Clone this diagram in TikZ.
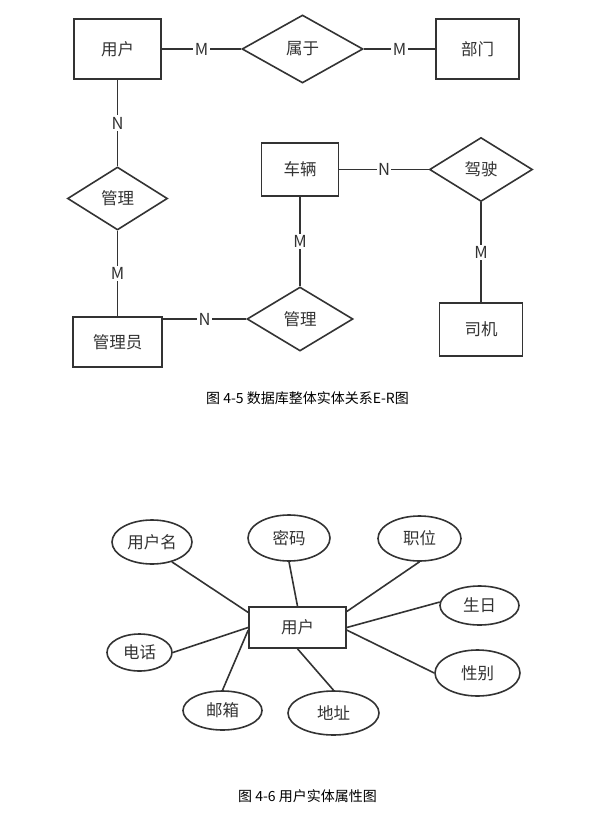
\documentclass[tikz,border=0pt]{standalone}
\usepackage{fontspec}
\setmainfont{Noto Sans CJK SC}
\usetikzlibrary{shapes.geometric}

\begin{document}
\begin{tikzpicture}[x=1pt, y=-1pt,
  entity/.style={draw=black!80, line width=1.6pt, fill=white, inner sep=0pt,
    text=black!80, font=\fontsize{16.5}{19}\selectfont},
  relation/.style={diamond, draw=black!80, line width=1.6pt, fill=white, inner sep=0pt,
    text=black!80, font=\fontsize{16.5}{19}\selectfont},
  attrib/.style={ellipse, draw=black!80, line width=1.6pt, fill=white, inner sep=0pt,
    text=black!80, font=\fontsize{16.5}{19}\selectfont},
  card/.style={fill=white, inner sep=1.5pt, text=black!80, font=\fontsize{16.5}{19}\selectfont},
  link/.style={draw=black!80, line width=1.6pt},
  caption/.style={text=black, font=\fontsize{14}{16}\selectfont}]

  \useasboundingbox (0,0) rectangle (597,826);

  % E-R diagram of the whole database
  \node[entity, minimum width=87pt, minimum height=60pt] (yonghu) at (117.5,49) {用户};
  \node[relation, minimum width=121pt, minimum height=68pt] (shuyu) at (302.5,49) {属于};
  \node[entity, minimum width=83pt, minimum height=60pt] (bumen) at (477.5,49) {部门};

  \node[relation, minimum width=100pt, minimum height=63pt] (guanliA) at (117.5,198.5) {管理};
  \node[entity, minimum width=89pt, minimum height=50pt] (guanliyuan) at (117.5,342) {管理员};

  \node[entity, minimum width=77pt, minimum height=53pt] (cheliang) at (300,169.5) {车辆};
  \node[relation, minimum width=103pt, minimum height=64pt] (jiashi) at (481,169.5) {驾驶};
  \node[entity, minimum width=83pt, minimum height=53pt] (siji) at (481,329.5) {司机};
  \node[relation, minimum width=106pt, minimum height=64pt] (guanliB) at (300,319) {管理};

  \draw[link] (yonghu) -- node[card]{M} (shuyu);
  \draw[link] (shuyu) -- node[card]{M} (bumen);
  \draw[link] (yonghu) -- node[card]{N} (guanliA);
  \draw[link] (guanliA) -- node[card]{M} (guanliyuan);
  \draw[link] (cheliang) -- node[card]{N} (jiashi);
  \draw[link] (cheliang) -- node[card]{M} (guanliB);
  \draw[link] (jiashi) -- node[card]{M} (siji);
  \draw[link] (guanliyuan.east |- guanliB) -- node[card]{N} (guanliB);

  \node[caption] (capA) at (307.5,398) {图 4-5 数据库整体实体关系E-R图};

  % attributes of the user entity
  \node[entity, minimum width=97pt, minimum height=41pt] (yh) at (297.5,627.5) {用户};

  \node[attrib, minimum width=80pt, minimum height=44pt] (yhm) at (152,542) {用户名};
  \node[attrib, minimum width=82pt, minimum height=46pt] (mm) at (289,538) {密码};
  \node[attrib, minimum width=83pt, minimum height=45pt] (zw) at (419.5,538.5) {职位};
  \node[attrib, minimum width=79pt, minimum height=39pt] (sr) at (479.5,605.5) {生日};
  \node[attrib, minimum width=85pt, minimum height=46pt] (xb) at (477.5,673) {性别};
  \node[attrib, minimum width=91pt, minimum height=44pt] (dz) at (333.5,713) {地址};
  \node[attrib, minimum width=79pt, minimum height=39pt] (yx) at (222.5,710.5) {邮箱};
  \node[attrib, minimum width=65pt, minimum height=37pt] (dh) at (139.5,652.5) {电话};

  \draw[link] (yhm.-45) -- (yh.163);
  \draw[link] (mm.south) -- (yh.north);
  \draw[link] (zw.south) -- (yh.18);
  \draw[link] (sr.175) -- (yh.east);
  \draw[link] (xb.west) -- (yh.357);
  \draw[link] (dz.north) -- (yh.south);
  \draw[link] (yx.north) -- (yh.183);
  \draw[link] (dh.east) -- (yh.west);

  \node[caption] (capB) at (307.5,796) {图 4-6 用户实体属性图};

\end{tikzpicture}
\end{document}
